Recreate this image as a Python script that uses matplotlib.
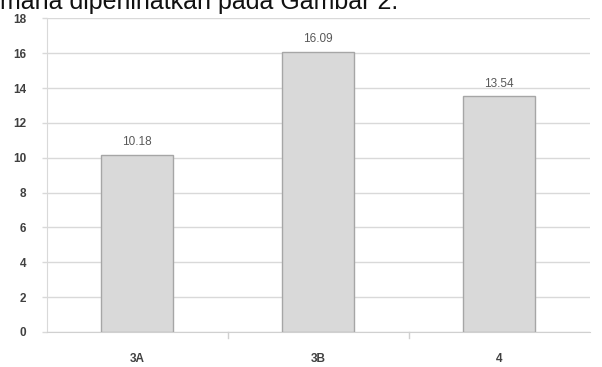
import matplotlib
matplotlib.use("Agg")
import matplotlib.pyplot as plt
import numpy as np

categories = ["3A", "3B", "4"]
values = [10.18, 16.09, 13.54]
value_labels = ["10.18", "16.09", "13.54"]
yticks = [0, 2, 4, 6, 8, 10, 12, 14, 16, 18]

plt.rcParams['font.family'] = ['Liberation Sans', 'DejaVu Sans']

fig = plt.figure(figsize=(6.02, 3.67), dpi=100)
ax = fig.add_axes([46.5/602, 1-332/367, (589.5-46.5)/602, (332-18.3)/367])

x = np.arange(len(categories))
ax.bar(x, values, width=0.4, color="#d9d9d9", edgecolor="#a6a6a6", linewidth=1.0, zorder=3)
for xi, v, lab in zip(x, values, value_labels):
    ax.text(xi, v + 0.35, lab, ha="center", va="bottom", fontsize=8.5, color="#595959")

ax.set_xlim(-0.5, len(categories) - 0.5)
ax.set_ylim(0, 18)
ax.set_yticks(yticks)
ax.set_yticklabels([str(t) for t in yticks], fontsize=8.5, fontweight="bold", color="#404040")
ax.set_xticks(x)
ax.set_xticklabels(categories, fontsize=8.5, fontweight="bold", color="#404040")
ax.tick_params(axis="x", length=0, pad=15)
ax.tick_params(axis="y", length=3.6, color="#d9d9d9", width=1, pad=11)
for b in [0.5, 1.5]:
    ax.plot([b, b], [0, -0.35], color="#d0d0d0", lw=1, clip_on=False)
ax.yaxis.grid(True, color="#d9d9d9", linewidth=1, zorder=0)
for s in ["top", "right"]:
    ax.spines[s].set_visible(False)
ax.spines["left"].set_color("#d9d9d9")
ax.spines["bottom"].set_color("#d0d0d0")

fig.text(0.0, 1 - 9/367, "mana diperlihatkan pada Gambar 2.", fontsize=18, color="#111111",
         ha="left", va="baseline")

fig.savefig("out.png", dpi=100)
